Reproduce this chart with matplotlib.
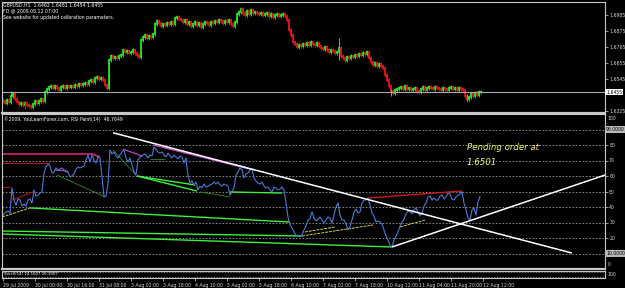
import numpy as np
import matplotlib
matplotlib.use("Agg")
import matplotlib.pyplot as plt
import matplotlib.transforms as mtransforms

# GBPUSD H1 closes, one per bar
closes = [
    1.6393, 1.6379, 1.6400, 1.6386, 1.6428, 1.6442, 1.6407, 1.6386, 1.6372, 1.6379,
    1.6366, 1.6379, 1.6366, 1.6359, 1.6352, 1.6372, 1.6393, 1.6379, 1.6393, 1.6407,
    1.6393, 1.6455, 1.6476, 1.6490, 1.6497, 1.6483, 1.6497, 1.6483, 1.6469, 1.6490,
    1.6497, 1.6483, 1.6497, 1.6490, 1.6497, 1.6490, 1.6503, 1.6497, 1.6510, 1.6503,
    1.6510, 1.6517, 1.6510, 1.6531, 1.6538, 1.6524, 1.6552, 1.6558, 1.6545, 1.6552,
    1.6538, 1.6503, 1.6483, 1.6675, 1.6703, 1.6689, 1.6696, 1.6689, 1.6703, 1.6710,
    1.6744, 1.6731, 1.6737, 1.6724, 1.6731, 1.6744, 1.6724, 1.6710, 1.6696, 1.6813,
    1.6834, 1.6848, 1.6827, 1.6841, 1.6834, 1.6854, 1.6923, 1.6944, 1.6930, 1.6909,
    1.6923, 1.6916, 1.6930, 1.6923, 1.6937, 1.6923, 1.6964, 1.6971, 1.6958, 1.6951,
    1.6937, 1.6951, 1.6923, 1.6937, 1.6909, 1.6923, 1.6937, 1.6916, 1.6930, 1.6902,
    1.6923, 1.6937, 1.6930, 1.6916, 1.6937, 1.6930, 1.6944, 1.6937, 1.6951, 1.6944,
    1.6930, 1.6944, 1.6937, 1.6951, 1.6923, 1.6909, 1.6937, 1.6992, 1.7006, 1.7026,
    1.6999, 1.6985, 1.7013, 1.6992, 1.7019, 1.6999, 1.7006, 1.6999, 1.6992, 1.6999,
    1.6985, 1.6992, 1.6999, 1.6978, 1.6992, 1.6971, 1.6985, 1.6992, 1.6978, 1.6985,
    1.6992, 1.6978, 1.6951, 1.6882, 1.6848, 1.6799, 1.6785, 1.6765, 1.6779, 1.6772,
    1.6785, 1.6779, 1.6792, 1.6779, 1.6799, 1.6785, 1.6779, 1.6792, 1.6772, 1.6758,
    1.6751, 1.6765, 1.6744, 1.6731, 1.6744, 1.6737, 1.6724, 1.6731, 1.6758, 1.6703,
    1.6689, 1.6675, 1.6696, 1.6689, 1.6703, 1.6696, 1.6710, 1.6703, 1.6717, 1.6710,
    1.6724, 1.6717, 1.6731, 1.6689, 1.6662, 1.6641, 1.6655, 1.6634, 1.6648, 1.6634,
    1.6620, 1.6572, 1.6538, 1.6497, 1.6462, 1.6448, 1.6469, 1.6476, 1.6483, 1.6490,
    1.6476, 1.6497, 1.6476, 1.6483, 1.6469, 1.6476, 1.6483, 1.6462, 1.6455, 1.6476,
    1.6490, 1.6469, 1.6483, 1.6490, 1.6483, 1.6476, 1.6490, 1.6483, 1.6476, 1.6469,
    1.6483, 1.6476, 1.6469, 1.6483, 1.6490, 1.6476, 1.6483, 1.6469, 1.6483, 1.6476,
    1.6469, 1.6428, 1.6407, 1.6421, 1.6442, 1.6428, 1.6448, 1.6435, 1.6455, 1.6455,
]

# a few visible long wicks
wick_bars = [4, 11, 119, 168, 194, 232]
wick_high = [1.6462, 1.6395, 1.7040, 1.6827, 1.6475, 1.6440]
wick_low = [1.6420, 1.6340, 1.7010, 1.6675, 1.6430, 1.6390]

# RSI(14) values
rsi = [
    33.5, 35.5, 36.8, 37.4, 36.1, 52.3, 44.5, 41.3, 45.2, 44.5,
    40.6, 41.9, 40.6, 44.5, 45.2, 42.6, 51.0, 47.1, 47.7, 49.0,
    49.7, 61.9, 65.8, 67.7, 66.5, 61.9, 62.6, 65.2, 63.9, 64.5,
    65.2, 63.9, 62.6, 62.6, 59.4, 60.0, 61.3, 64.5, 65.8, 65.2,
    65.8, 66.5, 70.3, 73.5, 69.0, 73.5, 70.3, 68.4, 72.3, 71.6,
    59.4, 46.5, 47.1, 55.5, 76.8, 74.2, 75.5, 72.9, 71.6, 73.5,
    75.5, 76.8, 71.6, 69.0, 71.6, 67.1, 62.6, 60.6, 70.3, 72.3,
    72.9, 74.2, 73.5, 71.6, 73.5, 72.9, 78.7, 77.4, 75.5, 74.8,
    75.5, 73.5, 72.3, 74.8, 72.9, 71.6, 73.5, 72.3, 71.0, 72.9,
    72.3, 68.4, 71.6, 60.0, 55.5, 56.8, 54.2, 56.1, 51.0, 53.5,
    52.3, 54.8, 52.9, 53.5, 54.2, 54.8, 56.1, 54.8, 56.1, 54.2,
    53.5, 54.8, 54.2, 53.5, 47.7, 49.7, 52.3, 60.6, 62.6, 65.2,
    63.9, 58.7, 61.3, 61.9, 63.9, 64.5, 58.7, 56.8, 55.5, 54.8,
    56.1, 53.5, 52.3, 52.9, 51.0, 49.7, 52.9, 52.3, 51.0, 51.6,
    52.9, 51.0, 42.6, 33.5, 28.4, 26.5, 23.9, 21.9, 21.3, 21.3,
    21.9, 25.2, 27.7, 31.6, 32.3, 36.8, 32.9, 31.0, 32.3, 33.5,
    31.6, 29.7, 31.6, 33.5, 32.9, 29.7, 34.8, 40.0, 42.6, 34.8,
    31.6, 31.6, 29.0, 25.2, 27.1, 31.6, 36.8, 38.7, 36.1, 36.8,
    42.6, 44.5, 44.5, 45.8, 41.3, 36.1, 34.2, 30.3, 31.0, 30.3,
    29.0, 25.2, 21.3, 18.7, 15.5, 14.2, 18.7, 21.3, 23.9, 27.7,
    30.3, 32.3, 35.5, 37.4, 36.8, 35.5, 38.1, 39.4, 36.8, 34.2,
    36.1, 40.6, 42.6, 46.5, 47.1, 44.5, 45.8, 44.5, 44.5, 47.1,
    47.7, 45.2, 46.5, 49.0, 48.4, 45.2, 44.5, 46.5, 47.7, 48.4,
    49.7, 42.6, 38.1, 32.9, 31.6, 38.1, 39.4, 34.8, 43.2, 46.8,
]

# RSI divergence / trend lines: (bar0, rsi0, bar1, rsi1)
white_lines = [(55, 87.9, 284.5, 10.3), (194.5, 14.2, 301, 60.6)]
lime_lines = [(13.5, 39.4, 143.5, 30.3), (-0.5, 24.5, 149.5, 21.3), (-0.5, 22.6, 194.5, 14.2),
              (67, 60.0, 97, 50.3), (67, 60.0, 96, 54.2), (113.5, 49.7, 139.5, 49.0)]
dkgreen_lines = [(27, 60.6, 51, 46.5), (55, 76.8, 66.5, 60.6), (73.5, 71.0, 81, 71.0),
                 (98.5, 49.7, 113.5, 46.5)]
magenta_lines = [(26, 63.9, 32.5, 63.2), (60, 77.4, 69.5, 72.9), (75, 80.0, 125, 63.9),
                 (80, 78.7, 122, 65.2)]
pink_lines = [(-0.5, 74.2, 44.5, 74.2), (44.5, 74.2, 48.5, 72.3)]
dkred_lines = [(-0.5, 68.4, 23.5, 68.4), (-0.5, 52.9, 3.5, 52.9), (4.5, 44.5, 15, 49.7)]
yellow_lines = [(-0.5, 33.5, 13.5, 39.4), (149.5, 21.3, 185, 28.4), (151, 23.9, 166, 27.1),
                (198.5, 27.1, 211, 31.6)]
red_lines = [(182.5, 45.8, 229.5, 50.3)]

rsi_levels = [90, 80, 70, 60, 50, 40, 30, 20, 10]
price_ticks = [1.6985, 1.6875, 1.6765, 1.6655, 1.6545, 1.6325]
last_price = 1.6455

time_pos = [0, 16, 32, 48, 64, 80, 96, 112, 128, 144, 160, 176, 192, 208, 224, 240]
time_labels = ["29 Jul 2009", "30 Jul 00:00", "30 Jul 16:00", "31 Jul 08:00", "3 Aug 02:00",
               "3 Aug 18:00", "4 Aug 10:00", "5 Aug 02:00", "5 Aug 18:00", "6 Aug 10:00",
               "7 Aug 02:00", "7 Aug 18:00", "10 Aug 12:00", "11 Aug 04:00", "11 Aug 20:00",
               "12 Aug 12:00"]

W, H = 625, 288
fig = plt.figure(figsize=(W / 100, H / 100), dpi=100, facecolor="black")

def px_axes(top, bottom):
    return fig.add_axes([2 / W, 1 - bottom / H, 603 / W, (bottom - top) / H], facecolor="black")

ax_p = px_axes(2, 113)
ax_r = px_axes(114, 269)
ax_m = px_axes(270.5, 278)

frame = "#c8c8c8"
txt = "#d8d8d8"
fs = 3.3
for ax in (ax_p, ax_r, ax_m):
    ax.set_xlim(-0.5, 301)
    for s in ax.spines.values():
        s.set_color(frame)
        s.set_linewidth(0.8)
    ax.tick_params(axis="x", which="both", bottom=False, labelbottom=False)
    ax.yaxis.tick_right()
    ax.tick_params(axis="y", colors=txt, labelsize=fs, length=2, width=0.5, pad=1)
ax_p.spines["bottom"].set_linewidth(1.6)
ax_r.spines["bottom"].set_linewidth(1.6)

# ---- price panel (candles)
bars = np.arange(len(closes))
opens = [closes[0] + 0.0005] + closes[:-1]
for b, o, c in zip(bars, opens, closes):
    col = "#22e622" if c >= o else "#e81414"
    lo, hi = min(o, c), max(o, c)
    ax_p.vlines(b, lo - 0.0014, hi + 0.0014, colors=col, lw=0.6)
    ax_p.vlines(b, lo - 0.0005, hi + 0.0005, colors=col, lw=1.3)
for b, h, l in zip(wick_bars, wick_high, wick_low):
    ax_p.vlines(b, l, h, colors="#22e622" if b % 2 == 0 else "#e81414", lw=0.7)

ax_p.axhline(last_price, color="#a8a8a8", lw=0.8)
ax_p.set_ylim(1.63108, 1.70744)
ax_p.set_yticks(price_ticks)
ax_p.set_yticklabels([f"{p:.4f}" for p in price_ticks])
pt = mtransforms.blended_transform_factory(ax_p.transAxes, ax_p.transData)
ax_p.text(1.002, last_price, f"{last_price:.4f}", transform=pt,
          fontsize=fs, color="black", va="center", ha="left",
          bbox=dict(facecolor="white", edgecolor="none", pad=0.6))

fig.text(3 / W, 1 - 5 / H, "GBPUSD,H1  1.6462 1.6481 1.6454 1.6455", color="white", fontsize=fs, va="center")
fig.text(3 / W, 1 - 11 / H, "FD @ 2009.08.12 07:00", color="white", fontsize=fs, va="center")
fig.text(3 / W, 1 - 17 / H, "See website for updated calibration parameters.", color="white", fontsize=fs, va="center")

# ---- RSI panel
ax_r.set_ylim(0, 100)
for lv in rsi_levels:
    ax_r.axhline(lv, color="#9a9a9a", lw=0.6, ls=(0, (2, 2)))

def draw(lines, color, lw, ls="-"):
    for b0, r0, b1, r1 in lines:
        ax_r.plot([b0, b1], [r0, r1], color=color, lw=lw, ls=ls, solid_capstyle="butt")

draw(lime_lines, "#3cf03c", 1.0)
draw(dkgreen_lines, "#2e8b2e", 0.6)
draw(magenta_lines, "#c040c0", 0.9)
draw(pink_lines, "#e0207a", 1.2)
draw(dkred_lines, "#a01414", 0.9)
draw(yellow_lines, "#d8d040", 0.7, (0, (3, 1)))
draw(red_lines, "#d01818", 1.0)

rsi_bars = np.arange(len(rsi)) - 0.5
ax_r.plot(rsi_bars, rsi, color="#4a7ad8", lw=0.8)
draw(white_lines, "white", 1.1)

ax_r.text(232, 78.7, "Pending order at", color="#f2f25a", fontsize=6.2, va="center", style="italic")
ax_r.text(232, 68.4, "1.6501", color="#f2f25a", fontsize=6.2, va="center", style="italic")
ax_r.text(0.3, 98.5, "\u00a92009, YouLearnForex.com, RSI Paint(14)  46.7649", color="white", fontsize=fs, va="top")

ax_r.set_yticks([80, 70, 60, 50, 40, 30, 20])
rt = mtransforms.blended_transform_factory(ax_r.transAxes, ax_r.transData)
ax_r.text(1.004, 99, "100", transform=rt, fontsize=fs, color=txt, va="top")
ax_r.text(1.004, 1, "0", transform=rt, fontsize=fs, color=txt, va="bottom")
for lv in (90, 10):
    ax_r.text(1.002, lv, f"{lv:.4f}", transform=rt, fontsize=fs, color="black", va="center",
              bbox=dict(facecolor="#b8b8b8", edgecolor="none", pad=0.6))

# ---- bottom mini panel
ax_m.set_ylim(0, 100)
ax_m.set_yticks([])
for lv in (80, 20):
    ax_m.axhline(lv, color="#9a9a9a", lw=0.5, ls=(0, (2, 2)))
ax_m.text(0.3, 50, "Stoch(14) 24.1607 26.3907", color="white", fontsize=2.8, va="center")
mt = mtransforms.blended_transform_factory(ax_m.transAxes, ax_m.transData)
ax_m.text(1.004, 50, "100", transform=mt, fontsize=fs, color=txt, va="center")

ax_m.tick_params(axis="x", bottom=True, labelbottom=True, colors=txt, labelsize=fs, length=2, width=0.5, pad=1.5)
ax_m.set_xticks(time_pos)
ax_m.set_xticklabels(time_labels, ha="left")

fig.savefig("out.png", dpi=100, facecolor="black")
